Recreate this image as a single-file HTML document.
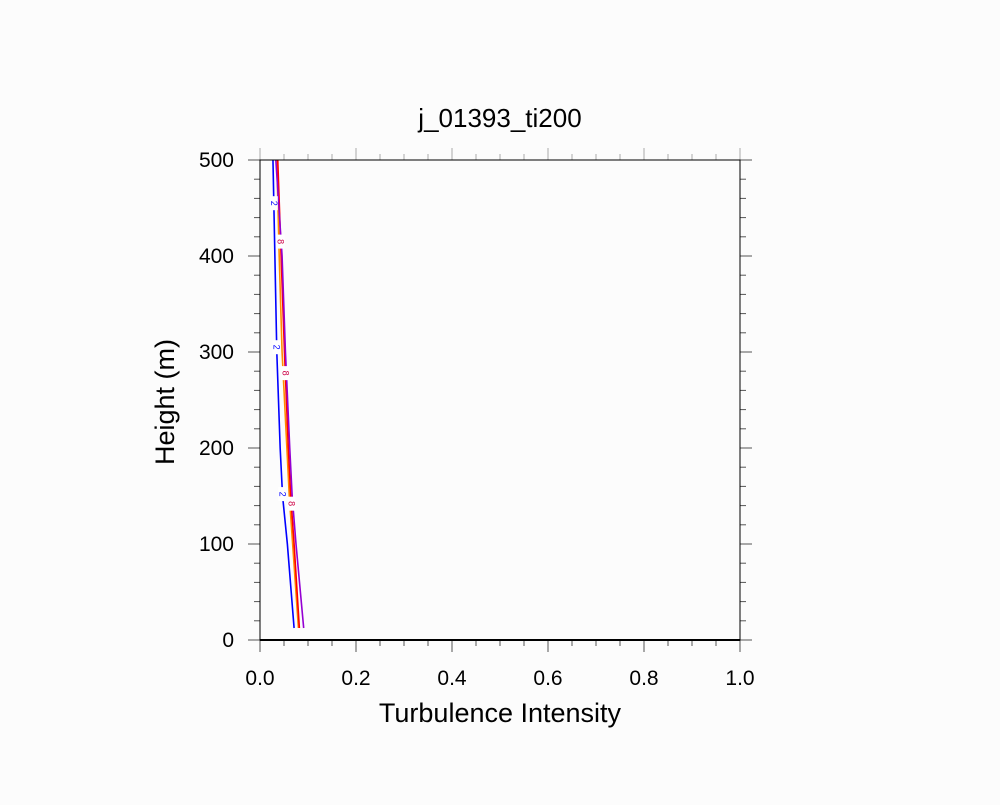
<!DOCTYPE html>
<html><head><meta charset="utf-8"><style>
body{margin:0;background:#fcfcfc;}
svg text{font-family:"Liberation Sans",sans-serif;}
</style></head><body>
<svg width="1000" height="800">
<rect width="1000" height="800" fill="#fcfcfc"/>
<text x="500" y="127" text-anchor="middle" font-size="26">j_01393_ti200</text>
<text x="500" y="722" text-anchor="middle" font-size="27">Turbulence Intensity</text>
<text transform="translate(174,402) rotate(-90)" text-anchor="middle" font-size="27">Height (m)</text>
<g id="axes"></g>
<g id="series"></g>
<g id="labels"></g>
<rect x="260" y="160" width="480" height="480" fill="none" stroke="#000" stroke-width="1"/>
<line x1="260" y1="640" x2="740" y2="640" stroke="#000" stroke-width="2"/>
</svg>
<script>
const heights=[12.5,100,150,200,300,400,500];
const blueTI=[0.071,0.057,0.047,0.042,0.035,0.031,0.027];
const orangeTI=[0.080,0.068,0.061,0.056,0.046,0.040,0.035];
const redTI=[0.082,0.071,0.064,0.059,0.051,0.044,0.037];
const purpleTI=[0.091,0.075,0.067,0.062,0.053,0.046,0.033];
const xTicks=[0,0.2,0.4,0.6,0.8,1.0];
const xTickLabels=["0.0","0.2","0.4","0.6","0.8","1.0"];
const yTicks=[0,100,200,300,400,500];
const NS="http://www.w3.org/2000/svg";
const X=v=>260+v*480, Y=h=>640-h*0.96;
function mk(tag,attrs,parent){const e=document.createElementNS(NS,tag);for(const k in attrs)e.setAttribute(k,attrs[k]);parent.appendChild(e);return e;}
const ax=document.getElementById('axes');
for(let i=0;i<=20;i++){const v=i*0.05,x=X(v),maj=i%4==0,L=maj?12:6;
 let t=mk('line',{x1:x,y1:640,x2:x,y2:640+L,stroke:'#555'},ax);
 
 t=mk('line',{x1:x,y1:160,x2:x,y2:160-L,stroke:'#aaa'},ax);
 }
for(let i=0;i<=25;i++){const h=i*20,y=Y(h),maj=i%5==0,L=maj?12:6;
 let t=mk('line',{x1:260,y1:y,x2:260-L,y2:y,stroke:'#555'},ax);
 
 t=mk('line',{x1:740,y1:y,x2:740+L,y2:y,stroke:'#555'},ax);
 }
xTicks.forEach((v,i)=>{const t=mk('text',{x:X(v),y:685,'text-anchor':'middle','font-size':21},ax);t.textContent=xTickLabels[i];
 });
yTicks.forEach(h=>{const t=mk('text',{x:234,y:Y(h)+7,'text-anchor':'end','font-size':21},ax);t.textContent=h;
 });
const sg=document.getElementById('series');
[[blueTI,'#0000ff','blue'],[orangeTI,'#ff8c00','orange'],[redTI,'#ff0000','red'],[purpleTI,'#9400d3','purple']].forEach(([d,c,n])=>{
 const p=mk('polyline',{points:d.map((v,i)=>X(v)+','+Y(heights[i])).join(' '),fill:'none',stroke:c,'stroke-width':1.6},sg);
 });
const lg=document.getElementById('labels');
function interp(arr,h){for(let i=0;i<heights.length-1;i++){if(h>=heights[i]&&h<=heights[i+1]){const f=(h-heights[i])/(heights[i+1]-heights[i]);return arr[i]+f*(arr[i+1]-arr[i]);}}return arr[arr.length-1];}
[[455,blueTI,'2','#0000ff'],[305,blueTI,'2','#0000ff'],[152,blueTI,'2','#0000ff'],[415,redTI,'8','#cc0044'],[278,redTI,'8','#cc0044'],[142,redTI,'8','#cc0044']].forEach(([h,arr,s,c])=>{
 const x=X(interp(arr,h)),y=Y(h);
 const r=mk('rect',{x:x-4,y:y-7,width:8,height:14,fill:'#fff'},lg);
 
 const t=mk('text',{x:x,y:y+3,'text-anchor':'middle','font-size':9,fill:c,transform:`rotate(90 ${x} ${y})`},lg);t.textContent=s;
 });
</script>
</body></html>
